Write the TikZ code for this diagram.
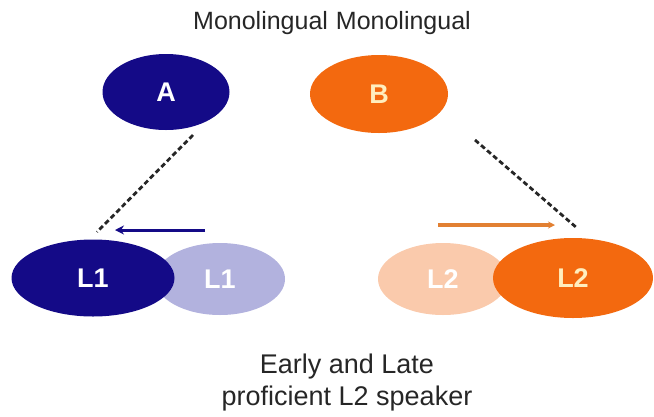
\documentclass[tikz,border=0pt]{standalone}
\usepackage{fontspec}
\setmainfont{Liberation Sans}
\usetikzlibrary{shapes.geometric,arrows.meta}
\definecolor{navyA}{RGB}{20,10,135}
\definecolor{orangeB}{RGB}{243,105,15}
\definecolor{lightA}{RGB}{178,178,222}
\definecolor{lightB}{RGB}{250,202,172}
\definecolor{arrowB}{RGB}{226,128,50}
\definecolor{labB}{RGB}{255,238,190}
\tikzset{
  blob/.style={ellipse, inner sep=0pt, draw=none},
  lab/.style={font=\bfseries\fontsize{27}{27}\selectfont, text=white},
  caption/.style={font=\fontsize{25}{29}\selectfont, text=black!85},
  dashlink/.style={line width=2.8pt, dash pattern=on 5pt off 3pt, black!85},
}
\begin{document}
\begin{tikzpicture}[x=1pt,y=-1pt]
\useasboundingbox (0,0) rectangle (654,416);
\node[caption] (mono) at (332,23) {Monolingual\hspace{8pt}Monolingual};
\node[blob, fill=navyA, minimum width=127pt, minimum height=76pt, lab] (A) at (166,92) {A};
\node[blob, fill=orangeB, minimum width=138pt, minimum height=78pt, lab, text=labB] (B) at (379,94) {B};
\node[blob, fill=lightA, minimum width=130pt, minimum height=72pt, lab] (L1b) at (220,279) {L1};
\node[blob, fill=navyA, minimum width=163pt, minimum height=77pt, lab] (L1a) at (93,278) {L1};
\node[blob, fill=lightB, minimum width=130pt, minimum height=72pt, lab] (L2b) at (443,279) {L2};
\node[blob, fill=orangeB, minimum width=160pt, minimum height=80pt, lab, text=labB] (L2a) at (573,278) {L2};
\coordinate (a1) at (193,135);
\coordinate (l1t) at (97,232);
\coordinate (b1) at (475,140);
\coordinate (l2t) at (577,228);
\draw[dashlink] (a1) -- (l1t);
\draw[dashlink] (b1) -- (l2t);
\coordinate (bs) at (205,230);
\coordinate (be) at (115,230);
\draw[navyA, line width=3pt, -{Stealth[length=9pt,width=9pt]}] (bs) -- (be);
\coordinate (os) at (438,225);
\coordinate (oe) at (555,225);
\draw[arrowB, line width=4pt, -{Stealth[length=7pt,width=7pt]}] (os) -- (oe);
\node[caption, font=\fontsize{27}{32}\selectfont, align=center, anchor=north] (cap) at (347,350) {Early and Late\\proficient L2 speaker};
\end{tikzpicture}
\end{document}
